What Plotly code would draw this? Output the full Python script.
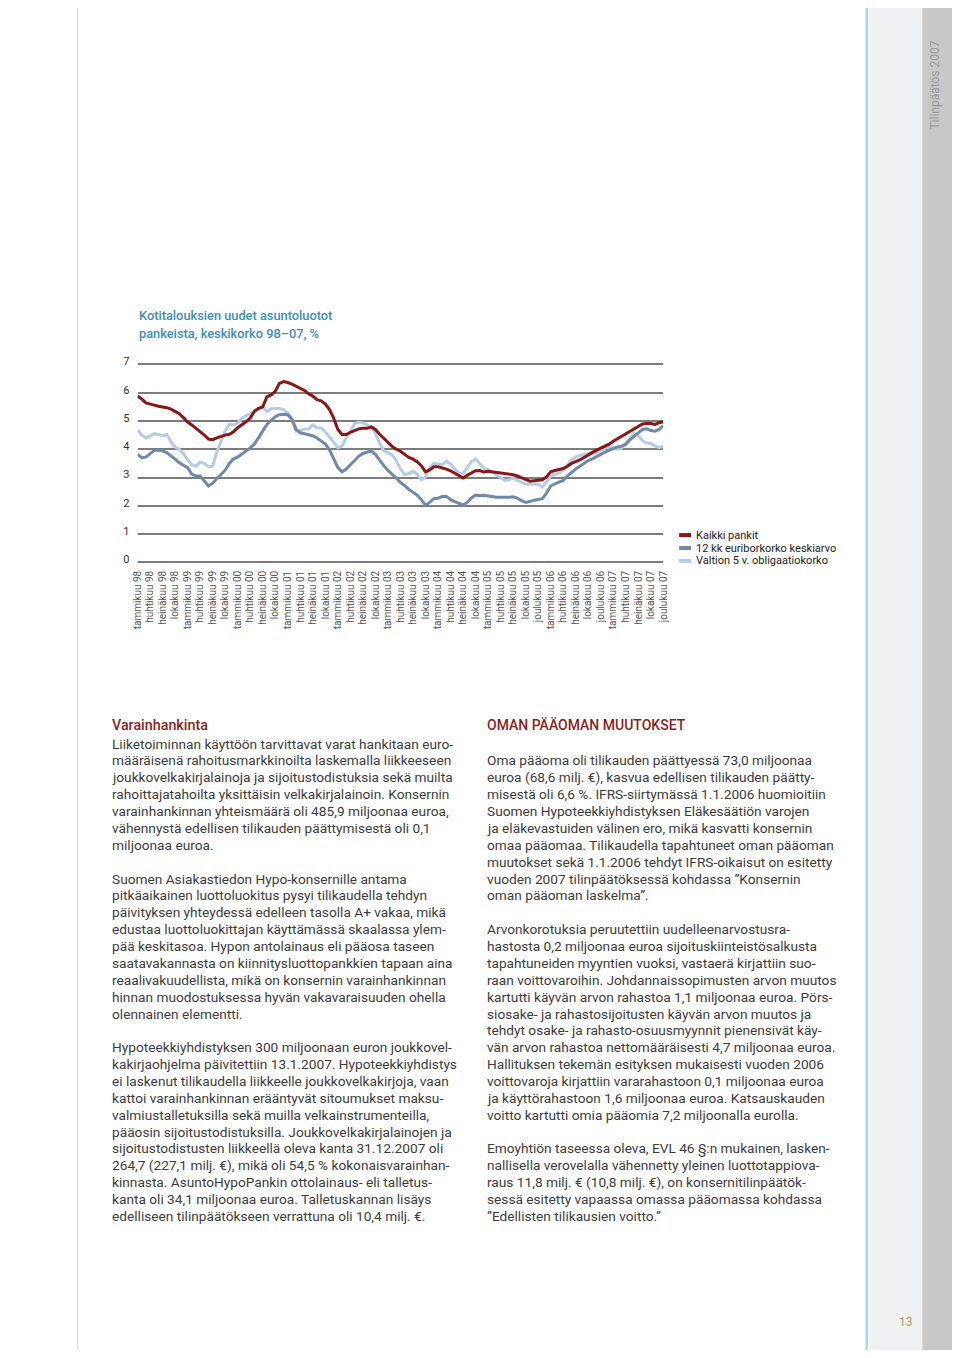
import plotly.graph_objects as go

# page is 960x1358; the browser body keeps an 8px margin, so the figure is 944x1342
OFF = 8
W, H = 944, 1342

# ---------------- data ----------------
tick_labels = [
    "tammikuu 98", "huhtikuu 98", "heinäkuu 98", "lokakuu 98",
    "tammikuu 99", "huhtikuu 99", "heinäkuu 99", "lokakuu 99",
    "tammikuu 00", "huhtikuu 00", "heinäkuu 00", "lokakuu 00",
    "tammikuu 01", "huhtikuu 01", "heinäkuu 01", "lokakuu 01",
    "tammikuu 02", "huhtikuu 02", "heinäkuu 02", "lokakuu 02",
    "tammikuu 03", "huhtikuu 03", "heinäkuu 03", "lokakuu 03",
    "tammikuu 04", "huhtikuu 04", "heinäkuu 04", "lokakuu 04",
    "tammikuu 05", "huhtikuu 05", "heinäkuu 05", "lokakuu 05",
    "joulukuu 05", "tammikuu 06", "huhtikuu 06", "heinäkuu 06",
    "lokakuu 06", "joulukuu 06", "tammikuu 07", "huhtikuu 07",
    "heinäkuu 07", "lokakuu 07", "joulukuu 07",
]

kaikki_pankit = [
    5.88, 5.78, 5.64, 5.61, 5.56, 5.52, 5.50, 5.47, 5.42, 5.35,
    5.26, 5.12, 4.96, 4.86, 4.74, 4.64, 4.50, 4.36, 4.34, 4.40,
    4.46, 4.50, 4.53, 4.62, 4.76, 4.86, 4.97, 5.10, 5.34, 5.45,
    5.50, 5.85, 5.92, 6.05, 6.33, 6.39, 6.36, 6.30, 6.22, 6.14,
    6.08, 5.96, 5.88, 5.75, 5.71, 5.60, 5.40, 5.10, 4.70, 4.52,
    4.52, 4.60, 4.67, 4.72, 4.74, 4.74, 4.79, 4.70, 4.53, 4.38,
    4.22, 4.10, 4.00, 3.93, 3.82, 3.71, 3.65, 3.56, 3.42, 3.20,
    3.27, 3.38, 3.38, 3.35, 3.30, 3.24, 3.16, 3.08, 2.98, 3.08,
    3.16, 3.24, 3.25, 3.20, 3.22, 3.20, 3.18, 3.16, 3.15, 3.13,
    3.10, 3.06, 3.00, 2.93, 2.87, 2.89, 2.91, 2.92, 3.02, 3.20,
    3.25, 3.29, 3.32, 3.40, 3.50, 3.56, 3.62, 3.71, 3.81, 3.89,
    3.97, 4.04, 4.10, 4.18, 4.28, 4.37, 4.47, 4.53, 4.62, 4.74,
    4.83, 4.89, 4.91, 4.91, 4.88, 4.94, 4.97,
]

euribor_12kk = [
    3.82, 3.70, 3.72, 3.85, 3.96, 3.97, 3.94, 3.88, 3.78, 3.65,
    3.52, 3.43, 3.35, 3.12, 3.05, 3.05, 2.88, 2.70, 2.80, 2.96,
    3.12, 3.26, 3.50, 3.66, 3.72, 3.82, 3.95, 4.05, 4.18, 4.40,
    4.65, 4.88, 5.02, 5.15, 5.22, 5.24, 5.22, 5.05, 4.70, 4.58,
    4.55, 4.52, 4.48, 4.40, 4.30, 4.18, 3.98, 3.65, 3.35, 3.20,
    3.30, 3.45, 3.60, 3.75, 3.85, 3.90, 3.94, 3.82, 3.60, 3.42,
    3.25, 3.12, 2.98, 2.82, 2.72, 2.58, 2.48, 2.38, 2.22, 2.02,
    2.12, 2.25, 2.27, 2.33, 2.34, 2.22, 2.15, 2.10, 2.03, 2.12,
    2.28, 2.38, 2.36, 2.37, 2.34, 2.31, 2.30, 2.30, 2.29, 2.30,
    2.32, 2.27, 2.18, 2.12, 2.15, 2.20, 2.22, 2.25, 2.45, 2.70,
    2.78, 2.83, 2.90, 3.05, 3.18, 3.30, 3.40, 3.50, 3.60, 3.66,
    3.75, 3.82, 3.90, 3.96, 4.03, 4.08, 4.11, 4.18, 4.33, 4.46,
    4.58, 4.70, 4.72, 4.66, 4.64, 4.70, 4.84,
]

valtion_5v = [
    4.68, 4.50, 4.40, 4.47, 4.55, 4.52, 4.48, 4.52, 4.27, 4.08,
    4.00, 3.85, 3.62, 3.45, 3.40, 3.55, 3.50, 3.38, 3.40, 3.90,
    4.30, 4.65, 4.88, 4.86, 4.92, 5.10, 5.18, 5.25, 5.35, 5.44,
    5.50, 5.33, 5.43, 5.44, 5.44, 5.40, 5.28, 5.10, 4.64, 4.66,
    4.72, 4.72, 4.86, 4.76, 4.75, 4.62, 4.45, 4.25, 4.05, 4.12,
    4.40, 4.62, 4.90, 4.96, 4.93, 4.86, 4.76, 4.56, 4.22, 3.95,
    3.88, 3.80, 3.60, 3.30, 3.10, 3.14, 3.22, 3.12, 2.92, 3.02,
    3.35, 3.50, 3.48, 3.46, 3.58, 3.48, 3.30, 3.16, 3.14, 3.35,
    3.56, 3.66, 3.48, 3.33, 3.28, 3.18, 3.08, 2.98, 2.90, 2.92,
    2.98, 2.90, 2.84, 2.77, 2.76, 2.77, 2.76, 2.66, 2.84, 3.04,
    3.10, 3.16, 3.26, 3.42, 3.62, 3.72, 3.77, 3.81, 3.85, 3.83,
    3.88, 3.96, 4.03, 4.07, 4.08, 4.00, 4.04, 4.20, 4.38, 4.56,
    4.48, 4.30, 4.22, 4.20, 4.12, 4.06, 4.10,
]

series_names = ["Kaikki pankit", "12 kk euriborkorko keskiarvo", "Valtion 5 v. obligaatiokorko"]
series_colors = ["#8c1515", "#7089ab", "#b4cde6"]

chart_title = ["Kotitalouksien uudet asuntoluotot", "pankeista, keskikorko 98–07, %"]

left_heading = "Varainhankinta"
left_lines = [
    "Liiketoiminnan käyttöön tarvittavat varat hankitaan euro-",
    "määräisenä rahoitusmarkkinoilta laskemalla liikkeeseen",
    "joukkovelkakirjalainoja ja sijoitustodistuksia sekä muilta",
    "rahoittajatahoilta yksittäisin velkakirjalainoin. Konsernin",
    "varainhankinnan yhteismäärä oli 485,9 miljoonaa euroa,",
    "vähennystä edellisen tilikauden päättymisestä oli 0,1",
    "miljoonaa euroa.",
    "",
    "Suomen Asiakastiedon Hypo-konsernille antama",
    "pitkäaikainen luottoluokitus pysyi tilikaudella tehdyn",
    "päivityksen yhteydessä edelleen tasolla A+ vakaa, mikä",
    "edustaa luottoluokittajan käyttämässä skaalassa ylem-",
    "pää keskitasoa. Hypon antolainaus eli pääosa taseen",
    "saatavakannasta on kiinnitysluottopankkien tapaan aina",
    "reaalivakuudellista, mikä on konsernin varainhankinnan",
    "hinnan muodostuksessa hyvän vakavaraisuuden ohella",
    "olennainen elementti.",
    "",
    "Hypoteekkiyhdistyksen 300 miljoonaan euron joukkovel-",
    "kakirjaohjelma päivitettiin 13.1.2007. Hypoteekkiyhdistys",
    "ei laskenut tilikaudella liikkeelle joukkovelkakirjoja, vaan",
    "kattoi varainhankinnan erääntyvät sitoumukset maksu-",
    "valmiustalletuksilla sekä muilla velkainstrumenteilla,",
    "pääosin sijoitustodistuksilla. Joukkovelkakirjalainojen ja",
    "sijoitustodistusten liikkeellä oleva kanta 31.12.2007 oli",
    "264,7 (227,1 milj. €), mikä oli 54,5 % kokonaisvarainhan-",
    "kinnasta. AsuntoHypoPankin ottolainaus- eli talletus-",
    "kanta oli 34,1 miljoonaa euroa. Talletuskannan lisäys",
    "edelliseen tilinpäätökseen verrattuna oli 10,4 milj. €.",
]

right_heading = "OMAN PÄÄOMAN MUUTOKSET"
right_lines = [
    "Oma pääoma oli tilikauden päättyessä 73,0 miljoonaa",
    "euroa (68,6 milj. €), kasvua edellisen tilikauden päätty-",
    "misestä oli 6,6 %. IFRS-siirtymässä 1.1.2006 huomioitiin",
    "Suomen Hypoteekkiyhdistyksen Eläkesäätiön varojen",
    "ja eläkevastuiden välinen ero, mikä kasvatti konsernin",
    "omaa pääomaa. Tilikaudella tapahtuneet oman pääoman",
    "muutokset sekä 1.1.2006 tehdyt IFRS-oikaisut on esitetty",
    "vuoden 2007 tilinpäätöksessä kohdassa ”Konsernin",
    "oman pääoman laskelma”.",
    "",
    "Arvonkorotuksia peruutettiin uudelleenarvostusra-",
    "hastosta 0,2 miljoonaa euroa sijoituskiinteistösalkusta",
    "tapahtuneiden myyntien vuoksi, vastaerä kirjattiin suo-",
    "raan voittovaroihin. Johdannaissopimusten arvon muutos",
    "kartutti käyvän arvon rahastoa 1,1 miljoonaa euroa. Pörs-",
    "siosake- ja rahastosijoitusten käyvän arvon muutos ja",
    "tehdyt osake- ja rahasto-osuusmyynnit pienensivät käy-",
    "vän arvon rahastoa nettomääräisesti 4,7 miljoonaa euroa.",
    "Hallituksen tekemän esityksen mukaisesti vuoden 2006",
    "voittovaroja kirjattiin vararahastoon 0,1 miljoonaa euroa",
    "ja käyttörahastoon 1,6 miljoonaa euroa. Katsauskauden",
    "voitto kartutti omia pääomia 7,2 miljoonalla eurolla.",
    "",
    "Emoyhtiön taseessa oleva, EVL 46 §:n mukainen, lasken-",
    "nallisella verovelalla vähennetty yleinen luottotappiova-",
    "raus 11,8 milj. € (10,8 milj. €), on konsernitilinpäätök-",
    "sessä esitetty vapaassa omassa pääomassa kohdassa",
    "”Edellisten tilikausien voitto.”",
]

side_label = "Tilinpäätös 2007"
page_number = "13"


# ---------------- helpers (page pixel -> paper fraction) ----------------
def px(x):
    return (x - OFF) / W


def py(y):
    return 1 - (y - OFF) / H


FONT = "Roboto"
x_idx = list(range(len(kaikki_pankit)))

fig = go.Figure()
# light blue first, then dark blue, red on top
for name, vals, col in [
    (series_names[2], valtion_5v, series_colors[2]),
    (series_names[1], euribor_12kk, series_colors[1]),
    (series_names[0], kaikki_pankit, series_colors[0]),
]:
    fig.add_trace(go.Scatter(x=x_idx, y=vals, mode="lines", name=name,
                             line=dict(color=col, width=3), showlegend=False,
                             hoverinfo="skip"))

shapes = []
annotations = []

# page decorations
shapes.append(dict(type="line", xref="paper", yref="paper", x0=px(72.5), x1=px(72.5),
                   y0=-0.01, y1=1.01, line=dict(color="#dadada", width=1)))
shapes.append(dict(type="rect", xref="paper", yref="paper", x0=px(872), x1=px(927),
                   y0=-0.01, y1=1.01, fillcolor="#f0f1f2", line=dict(width=0), layer="below"))
shapes.append(dict(type="rect", xref="paper", yref="paper", x0=px(869.5), x1=px(872),
                   y0=-0.01, y1=1.01, fillcolor="#a9d9e3", line=dict(width=0), layer="below"))
shapes.append(dict(type="rect", xref="paper", yref="paper", x0=px(927), x1=1.01,
                   y0=-0.01, y1=1.01, fillcolor="#c8c8c8", line=dict(width=0), layer="below"))

annotations.append(dict(text=side_label, xref="paper", yref="paper", x=px(940), y=py(78),
                        showarrow=False, textangle=-90, xanchor="center", yanchor="middle",
                        font=dict(family=FONT, size=12, color="#9b9b9b")))
annotations.append(dict(text=page_number, xref="paper", yref="paper", x=px(911), y=py(1324),
                        showarrow=False, xanchor="center", yanchor="middle",
                        font=dict(family=FONT, size=12, color="#b09a55")))

# chart title
for i, t in enumerate(chart_title):
    annotations.append(dict(text=t, xref="paper", yref="paper", x=px(132), y=py(310 + 18 * i),
                            showarrow=False, xanchor="left", yanchor="middle",
                            font=dict(family=FONT, size=12.8, color="#3b8fb9", weight=500)))

# custom legend
for i, (name, col) in enumerate(zip(series_names, series_colors)):
    yy = 531 + 13 * i
    shapes.append(dict(type="line", xref="paper", yref="paper", x0=px(681), x1=px(693),
                       y0=py(yy), y1=py(yy), line=dict(color=col, width=4)))
    annotations.append(dict(text=name, xref="paper", yref="paper", x=px(696), y=py(yy),
                            showarrow=False, xanchor="left", yanchor="middle",
                            font=dict(family=FONT, size=11, color="#222222")))

# text columns
BODY = dict(family=FONT, size=13.7, color="#3c3c3c")
HEAD = dict(family=FONT, size=14.3, color="#8b1f1f", weight=500)
annotations.append(dict(text=left_heading, xref="paper", yref="paper", x=px(105), y=py(722),
                        showarrow=False, xanchor="left", yanchor="middle", font=HEAD))
for i, t in enumerate(left_lines):
    if t:
        annotations.append(dict(text=t, xref="paper", yref="paper", x=px(105), y=py(741 + 17 * i),
                                showarrow=False, xanchor="left", yanchor="middle", font=BODY))

annotations.append(dict(text=right_heading, xref="paper", yref="paper", x=px(485), y=py(722),
                        showarrow=False, xanchor="left", yanchor="middle",
                        font=dict(family=FONT, size=14, color="#8b1f1f", weight=500)))
for i, t in enumerate(right_lines):
    if t:
        annotations.append(dict(text=t, xref="paper", yref="paper", x=px(485), y=py(758 + 17 * i),
                                showarrow=False, xanchor="left", yanchor="middle", font=BODY))

UNIT = 28.5  # pixels per percentage point
PAD = 0.05
fig.update_layout(
    width=W, height=H,
    margin=dict(l=0, r=0, t=0, b=0),
    paper_bgcolor="white", plot_bgcolor="white",
    showlegend=False,
    shapes=shapes, annotations=annotations,
    xaxis=dict(domain=[px(133), px(665)], range=[0, 126],
               tickmode="array", tickvals=list(range(0, 127, 3)), ticktext=tick_labels,
               tickangle=-90, tickfont=dict(family=FONT, size=10, color="#555555"),
               showgrid=False, zeroline=False, showline=False, ticks="",
               ticklabelstandoff=4),
    yaxis=dict(domain=[py(558.5 + PAD * UNIT), py(359 - PAD * UNIT)], range=[-PAD, 7 + PAD],
               tickmode="array", tickvals=list(range(0, 8)),
               showgrid=True, gridcolor="#7d7d7d", gridwidth=1.5,
               zeroline=False, showline=False, ticks="",
               tickfont=dict(family=FONT, size=11, color="#333333"),
               ticklabelstandoff=7, ticklabelshift=-3),
)

fig.write_html("out.html", config={"displayModeBar": False})
